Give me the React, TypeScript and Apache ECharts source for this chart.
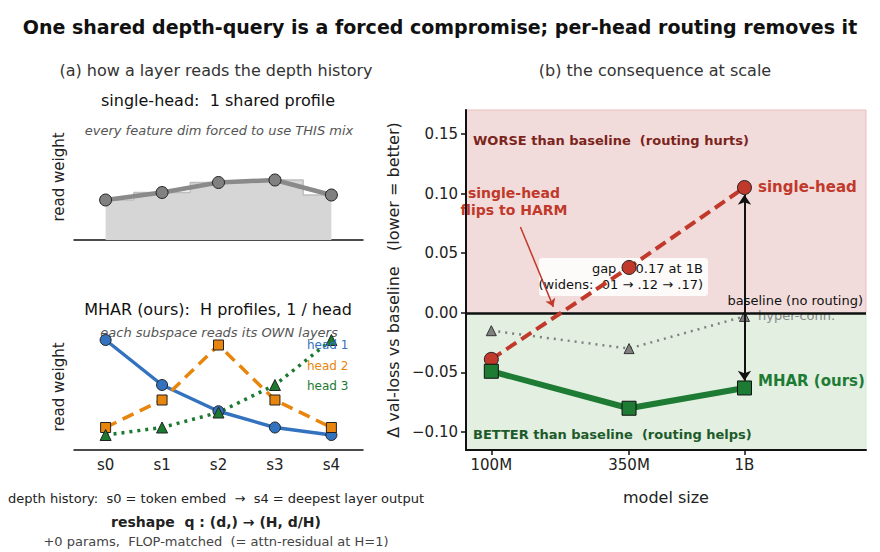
import React, { useEffect, useRef } from "react";
import * as echarts from "echarts";

// depth-history stages read by a layer
const STAGES = ["s0", "s1", "s2", "s3", "s4"];
// (a) read weights over the depth history
const SINGLE_PROFILE = [0.16, 0.19, 0.23, 0.24, 0.18];
const HEAD1 = [0.44, 0.26, 0.155, 0.09, 0.06];
const HEAD2 = [0.09, 0.2, 0.42, 0.2, 0.09];
const HEAD3 = [0.06, 0.09, 0.15, 0.26, 0.44];
// (b) delta val-loss vs. baseline at each model size
const MODEL_SIZES = [1e8, 3.5e8, 1e9];
const SIZE_LABELS = ["100M", "350M", "1B"];
const SINGLE_HEAD_DELTA = [-0.039, 0.038, 0.105];
const MHAR_DELTA = [-0.049, -0.08, -0.063];
const HYPER_CONN_DELTA = [-0.015, -0.03, -0.003];
const Y_TICKS = [-0.1, -0.05, 0, 0.05, 0.1, 0.15];

const FONT = "DejaVu Sans";
const RED = "#c0392b";
const GREEN = "#1e7b34";
const GRAY = "#808080";
const BLUE = "#3372bf";
const ORANGE = "#e8850c";
const HEAD_GREEN = "#1b7a30";

const Y_MIN = -0.115;
const Y_MAX = 0.17;
const LOG_MIN = 7.9;
const LOG_MAX = 9.48;

const logSizes = MODEL_SIZES.map((s) => Math.log10(s));
const xy = (vals: number[]) => vals.map((v, i) => [i, v]);
const xyLog = (vals: number[]) => vals.map((v, i) => [logSizes[i], v]);

function txt(
  text: string,
  x: number,
  y: number,
  style: Record<string, unknown> = {},
  extra: Record<string, unknown> = {}
) {
  return {
    type: "text",
    x,
    y,
    z: 3,
    ...extra,
    style: {
      text,
      fontFamily: FONT,
      fontSize: 13,
      fill: "#222",
      align: "center",
      verticalAlign: "middle",
      ...style,
    },
  };
}

export default function App() {
  const ref = useRef<HTMLDivElement>(null);

  useEffect(() => {
    if (!ref.current) return;
    const chart = echarts.init(ref.current, undefined, { renderer: "svg" });

    const leftX = (gridIndex: number, showLabels: boolean) => ({
      type: "value",
      gridIndex,
      min: -0.56,
      max: 4.56,
      axisLine: { show: true, onZero: false, lineStyle: { color: "#111", width: 1.5 } },
      axisTick: { show: false },
      splitLine: { show: false },
      axisLabel: {
        show: showLabels,
        customValues: STAGES.map((_, i) => i),
        formatter: (v: number) => STAGES[Math.round(v)] ?? "",
        fontFamily: FONT,
        fontSize: 15,
        color: "#222",
        margin: 7,
      },
    });
    const leftY = (gridIndex: number) => ({
      type: "value",
      gridIndex,
      min: 0,
      max: 0.5,
      show: false,
      splitLine: { show: false },
    });

    const shrink = 0.006;

    const option = {
      animation: false,
      backgroundColor: "#ffffff",
      grid: [
        { left: 74, top: 115, width: 289, height: 125 },
        { left: 74, top: 325, width: 289, height: 125 },
        { left: 466, top: 110, width: 400, height: 340 },
      ],
      xAxis: [
        leftX(0, false),
        leftX(1, true),
        {
          type: "value",
          gridIndex: 2,
          min: LOG_MIN,
          max: LOG_MAX,
          z: 6,
          axisLine: { show: true, onZero: false, lineStyle: { color: "#111", width: 2 } },
          axisTick: {
            show: true,
            customValues: logSizes,
            length: 5,
            lineStyle: { color: "#111", width: 1.5 },
          },
          splitLine: { show: false },
          axisLabel: {
            customValues: logSizes,
            formatter: (v: number) => {
              let best = 0;
              logSizes.forEach((l, i) => {
                if (Math.abs(l - v) < Math.abs(logSizes[best] - v)) best = i;
              });
              return SIZE_LABELS[best];
            },
            fontFamily: FONT,
            fontSize: 15,
            color: "#222",
            margin: 7,
          },
        },
      ],
      yAxis: [
        leftY(0),
        leftY(1),
        {
          type: "value",
          gridIndex: 2,
          min: Y_MIN,
          max: Y_MAX,
          z: 6,
          axisLine: { show: true, onZero: false, lineStyle: { color: "#111", width: 2 } },
          axisTick: {
            show: true,
            customValues: Y_TICKS,
            length: 5,
            lineStyle: { color: "#111", width: 1.5 },
          },
          splitLine: { show: false },
          axisLabel: {
            customValues: Y_TICKS,
            formatter: (v: number) => v.toFixed(2).replace("-", "\u2212"),
            fontFamily: FONT,
            fontSize: 15,
            color: "#222",
            margin: 8,
          },
        },
      ],
      series: [
        // (a) single shared profile: step fill + points
        {
          type: "line",
          xAxisIndex: 0,
          yAxisIndex: 0,
          step: "middle",
          data: xy(SINGLE_PROFILE),
          symbol: "none",
          lineStyle: { color: "#bdbdbd", width: 1.5 },
          areaStyle: { color: "#d6d6d6", opacity: 1 },
          z: 2,
        },
        {
          type: "line",
          xAxisIndex: 0,
          yAxisIndex: 0,
          data: xy(SINGLE_PROFILE),
          symbol: "circle",
          symbolSize: 12,
          lineStyle: { color: "#8a8a8a", width: 4.5 },
          itemStyle: { color: "#808080", borderColor: "#222", borderWidth: 1 },
          z: 3,
        },
        // (a) per-head profiles
        {
          type: "line",
          xAxisIndex: 1,
          yAxisIndex: 1,
          data: xy(HEAD1),
          symbol: "circle",
          symbolSize: 11,
          lineStyle: { color: BLUE, width: 3.5 },
          itemStyle: { color: BLUE, borderColor: "#222", borderWidth: 1 },
          z: 3,
        },
        {
          type: "line",
          xAxisIndex: 1,
          yAxisIndex: 1,
          data: xy(HEAD2),
          symbol: "rect",
          symbolSize: 10,
          lineStyle: { color: ORANGE, width: 3.5, type: [12, 7] },
          itemStyle: { color: ORANGE, borderColor: "#222", borderWidth: 1 },
          z: 3,
        },
        {
          type: "line",
          xAxisIndex: 1,
          yAxisIndex: 1,
          data: xy(HEAD3),
          symbol: "triangle",
          symbolSize: 11,
          lineStyle: { color: HEAD_GREEN, width: 3.5, type: [3, 5] },
          itemStyle: { color: HEAD_GREEN, borderColor: "#222", borderWidth: 1 },
          z: 3,
        },
        // (b) worse / better bands and baseline
        {
          type: "line",
          xAxisIndex: 2,
          yAxisIndex: 2,
          data: [],
          z: 1,
          markArea: {
            silent: true,
            data: [
              [
                { xAxis: LOG_MIN, yAxis: 0, itemStyle: { color: "#f2dcdb", borderColor: "#ebbdbb", borderWidth: 1 } },
                { xAxis: LOG_MAX, yAxis: Y_MAX },
              ],
              [
                { xAxis: LOG_MIN, yAxis: Y_MIN, itemStyle: { color: "#e2efe1", borderColor: "#d3e8d2", borderWidth: 1 } },
                { xAxis: LOG_MAX, yAxis: 0 },
              ],
            ],
          },
          markLine: {
            silent: true,
            symbol: "none",
            label: { show: false },
            lineStyle: { color: "#111", width: 2.5, type: "solid" },
            data: [{ yAxis: 0 }],
          },
        },
        // hyper-connection reference
        {
          type: "line",
          xAxisIndex: 2,
          yAxisIndex: 2,
          data: xyLog(HYPER_CONN_DELTA),
          symbol: "triangle",
          symbolSize: 10,
          lineStyle: { color: GRAY, width: 2.5, type: [2, 5] },
          itemStyle: { color: GRAY, borderColor: "#333", borderWidth: 1 },
          z: 4,
        },
        // arrows: gap at 1B and the harm pointer
        {
          type: "line",
          xAxisIndex: 2,
          yAxisIndex: 2,
          data: [],
          z: 4,
          markLine: {
            silent: true,
            label: { show: false },
            data: [
              [
                {
                  coord: [logSizes[2], SINGLE_HEAD_DELTA[2] - shrink],
                  symbol: "arrow",
                  symbolSize: 10,
                  lineStyle: { color: "#111", width: 2, type: "solid" },
                },
                { coord: [logSizes[2], MHAR_DELTA[2] + shrink], symbol: "arrow", symbolSize: 10 },
              ],
              [
                {
                  coord: [8.115, 0.072],
                  symbol: "none",
                  lineStyle: { color: RED, width: 1.5, type: "solid" },
                },
                { coord: [8.245, 0.005], symbol: "arrow", symbolSize: 8 },
              ],
            ],
          },
        },
        {
          type: "line",
          xAxisIndex: 2,
          yAxisIndex: 2,
          data: xyLog(SINGLE_HEAD_DELTA),
          symbol: "circle",
          symbolSize: 14,
          lineStyle: { color: RED, width: 4, type: [12, 6] },
          itemStyle: { color: RED, borderColor: "#222", borderWidth: 1 },
          z: 5,
        },
        {
          type: "line",
          xAxisIndex: 2,
          yAxisIndex: 2,
          data: xyLog(MHAR_DELTA),
          symbol: "rect",
          symbolSize: 14,
          lineStyle: { color: GREEN, width: 6 },
          itemStyle: { color: GREEN, borderColor: "#111", borderWidth: 1 },
          z: 5,
        },
      ],
      graphic: [
        txt(
          "One shared depth-query is a forced compromise; per-head routing removes it",
          440,
          27,
          { fontSize: 19, fontWeight: "bold", fill: "#111" }
        ),
        txt("(a) how a layer reads the depth history", 216, 70, { fontSize: 16, fill: "#333" }),
        txt("(b) the consequence at scale", 655, 70, { fontSize: 16, fill: "#333" }),
        // panel (a) top
        txt("single-head:  1 shared profile", 218, 100, { fontSize: 16, fill: "#111" }),
        txt("every feature dim forced to use THIS mix", 219, 130, {
          fontSize: 13,
          fontStyle: "italic",
          fill: "#555",
        }),
        txt("read weight", 59, 177, { fontSize: 15 }, { rotation: Math.PI / 2 }),
        // panel (a) bottom
        txt("MHAR (ours):  H profiles, 1 / head", 218, 309, { fontSize: 16, fill: "#111" }),
        txt("each subspace reads its OWN layers", 219, 332, {
          fontSize: 13,
          fontStyle: "italic",
          fill: "#555",
        }),
        txt("read weight", 59, 387, { fontSize: 15 }, { rotation: Math.PI / 2 }),
        txt("head 1", 307, 345, { fontSize: 12, fill: BLUE, align: "left" }, { z: 10 }),
        txt("head 2", 307, 366, { fontSize: 12, fill: ORANGE, align: "left" }, { z: 10 }),
        txt("head 3", 307, 386, { fontSize: 12, fill: HEAD_GREEN, align: "left" }, { z: 10 }),
        // footnotes
        txt("depth history:  s0 = token embed  \u2192  s4 = deepest layer output", 216, 498, {
          fontSize: 13,
          fill: "#222",
        }),
        txt("reshape  q : (d,) \u2192 (H, d/H)", 216, 522, {
          fontSize: 14,
          fontWeight: "bold",
          fill: "#222",
        }),
        txt("+0 params,  FLOP-matched  (= attn-residual at H=1)", 216, 541, {
          fontSize: 13,
          fill: "#444",
        }),
        // panel (b)
        txt(
          "\u0394 val-loss vs baseline   (lower = better)",
          393,
          280,
          { fontSize: 16, fill: "#222" },
          { rotation: Math.PI / 2 }
        ),
        txt("model size", 666, 497, { fontSize: 16, fill: "#222" }),
        txt("WORSE than baseline  (routing hurts)", 473, 140, {
          fontSize: 13,
          fontWeight: "bold",
          fill: "#7b241c",
          align: "left",
        }),
        txt("BETTER than baseline  (routing helps)", 473, 434, {
          fontSize: 13,
          fontWeight: "bold",
          fill: "#1d5a2a",
          align: "left",
        }),
        txt("single-head", 758, 187, { fontSize: 15, fontWeight: "bold", fill: RED, align: "left" }),
        txt("MHAR (ours)", 758, 381, { fontSize: 15, fontWeight: "bold", fill: GREEN, align: "left" }),
        txt("single-head", 514, 193, { fontSize: 14, fontWeight: "bold", fill: RED }, { z: 6 }),
        txt("flips to HARM", 514, 210, { fontSize: 14, fontWeight: "bold", fill: RED }, { z: 6 }),
        {
          type: "rect",
          z: 3,
          shape: { x: 539, y: 258, width: 169, height: 38, r: 3 },
          style: { fill: "rgba(255,255,255,0.85)", stroke: "none" },
        },
        txt("gap \u2248 0.17 at 1B", 703, 268, { fontSize: 13, fill: "#111", align: "right" }, { z: 3 }),
        txt("(widens: .01 \u2192 .12 \u2192 .17)", 703, 284, { fontSize: 13, fill: "#111", align: "right" }, { z: 3 }),
        txt("baseline (no routing)", 863, 300, { fontSize: 13, fill: "#111", align: "right" }, { z: 6 }),
        txt("hyper-conn.", 758, 315, { fontSize: 13, fill: "#888", align: "left" }, { z: 3 }),
      ],
    };

    chart.setOption(option as any);
    return () => chart.dispose();
  }, []);

  return (
    <div
      ref={ref}
      style={{ position: "fixed", left: 0, top: 0, width: 880, height: 552, background: "#fff" }}
    />
  );
}
